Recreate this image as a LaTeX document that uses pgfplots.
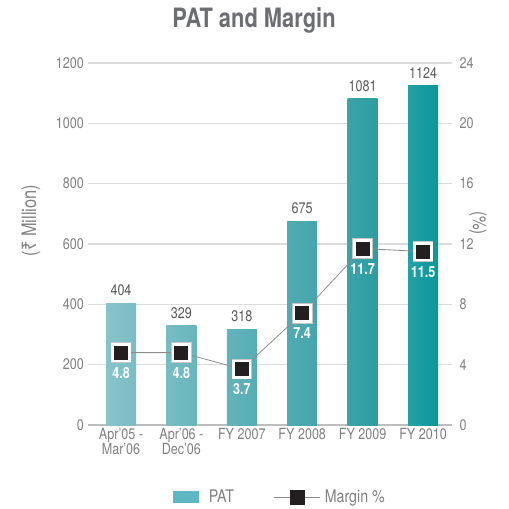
\documentclass[border=0pt]{standalone}
\usepackage{fontspec}
\setmainfont{TeX Gyre Heros}[FakeStretch=0.82]
\newfontfamily\rupeefont{Noto Sans}[FakeStretch=0.82]
\usepackage{pgfplots}
\pgfplotsset{compat=1.18}
\definecolor{titlec}{HTML}{6D6E71}
\definecolor{tickc}{HTML}{808080}
\definecolor{valc}{HTML}{58595B}
\definecolor{gridc}{HTML}{DCDCDC}
\definecolor{axisc}{HTML}{BDBDBD}
\definecolor{linec}{HTML}{8C8C8C}
\definecolor{sqc}{HTML}{231F20}
\definecolor{legc}{HTML}{5FB7C4}
\definecolor{bAl}{HTML}{86C4CA}\definecolor{bAr}{HTML}{7ABDC4}
\definecolor{bBl}{HTML}{76BCC3}\definecolor{bBr}{HTML}{69B5BD}
\definecolor{bCl}{HTML}{64B3BB}\definecolor{bCr}{HTML}{57ADB5}
\definecolor{bDl}{HTML}{52ABB2}\definecolor{bDr}{HTML}{44A5AC}
\definecolor{bEl}{HTML}{3CA4A9}\definecolor{bEr}{HTML}{2C9DA2}
\definecolor{bFl}{HTML}{24A1A5}\definecolor{bFr}{HTML}{0A979B}
\pgfplotsset{
  common/.style={
    scale only axis, width=273pt, height=271.5pt,
    xmin=-0.546, xmax=5.48,
    clip=false,
    /pgf/number format/assume math mode=true,
    /pgf/number format/1000 sep={},
    tick style={draw=none}, major tick length=0pt,
    ticklabel style={font=\fontsize{11.5}{13}\selectfont, text=tickc},
  },
  pbar/.style n args={3}{ybar, bar width=22.5pt, bar shift=0pt, draw=none,
    left color=#1, right color=#2, forget plot,
    nodes near coords, nodes near coords style={font=\fontsize{11.5}{13}\selectfont, text=valc, anchor=south, yshift=2pt},
    point meta=explicit symbolic},
}
\begin{document}
\begin{tikzpicture}
\begin{axis}[
  common,
  ymin=0, ymax=1200, ytick={0,200,...,1200},
  ymajorgrids, grid style={draw=gridc, line width=1.2pt},
  axis x line*=bottom, axis y line*=left,
  y axis line style={draw=none},
  x axis line style={draw=axisc, line width=1.2pt},
  xtick={0,...,5},
  xticklabels={{Apr’05 -\\Mar’06},{Apr’06 -\\Dec’06},{FY 2007},{FY 2008},{FY 2009},{FY 2010}},
  xticklabel style={align=center, font=\fontsize{11.5}{11.5}\selectfont, text=tickc, inner sep=1pt, yshift=-1pt},
  yticklabel style={inner sep=3pt},
  every axis title shift=0pt,
  title={PAT and Margin},
  title style={at={(axis description cs:0.456,1.0967)}, anchor=base, inner sep=0pt, font=\fontsize{20}{22}\bfseries\selectfont, text=titlec},
  ylabel={({\rupeefont ₹} Million)},
  ylabel style={at={(axis description cs:-0.157,0.565)}, anchor=center, inner sep=0pt, font=\fontsize{15}{17}\selectfont, text=tickc},
  legend style={at={(axis description cs:0.2335,-0.199)}, anchor=west, draw=none, fill=none, inner sep=0pt,
    nodes={inner sep=0pt},
    font=\fontsize{13}{15}\selectfont, text=tickc, legend columns=2,
    /tikz/every odd column/.append style={column sep=7.5pt},
    /tikz/every even column/.append style={column sep=30pt}},
]
\addplot[pbar={bAl}{bAr}{}] coordinates {(0,404) [404]};
\addplot[pbar={bBl}{bBr}{}] coordinates {(1,329) [329]};
\addplot[pbar={bCl}{bCr}{}] coordinates {(2,318) [318]};
\addplot[pbar={bDl}{bDr}{}] coordinates {(3,675) [675]};
\addplot[pbar={bEl}{bEr}{}] coordinates {(4,1081) [1081]};
\addplot[pbar={bFl}{bFr}{}] coordinates {(5,1124) [1124]};
\addlegendimage{legend image code/.code={\fill[legc] (0pt,-4.1pt) rectangle (18.75pt,4.1pt);}}
\addlegendentry{PAT}
\addlegendimage{legend image code/.code={\draw[linec, line width=0.6pt] (0pt,0pt) -- (30pt,0pt); \draw[overlay, linec, line width=0.6pt] (29pt,0pt) -- (34.5pt,0pt); \fill[sqc] (12pt,-5.25pt) rectangle (22.5pt,5.25pt);}}
\addlegendentry{Margin \%}
\path (rel axis cs:-0.2418,-0.232) rectangle (rel axis cs:1.1538,1.174);
\end{axis}
\begin{axis}[
  common,
  ymin=0, ymax=24, ytick={0,4,...,24},
  axis x line=none, axis y line*=right,
  y axis line style={draw=none},
  yticklabel style={anchor=west, inner sep=0pt, xshift=5.5pt},
  ylabel={(\%)},
  ylabel style={at={(axis description cs:1.071,0.558)}, anchor=center, inner sep=0pt, rotate=180, font=\fontsize{14}{16}\selectfont, text=tickc},
]
\addplot[only marks, mark=square*, mark size=6.25pt, forget plot,
  mark options={fill=sqc, draw=gray!45, line width=2.9pt}]
  coordinates {(0,4.8) (1,4.8) (2,3.7) (3,7.4) (4,11.7) (5,11.5)};
\addplot[linec, line width=0.6pt, mark=square*, mark size=6.25pt,
  mark options={fill=sqc, draw=white, line width=2pt},
  nodes near coords, point meta=explicit symbolic,
  nodes near coords style={font=\fontsize{11.5}{13}\bfseries\selectfont, text=white, anchor=north, inner sep=0pt, yshift=-10pt}]
  coordinates {(0,4.8) [4.8] (1,4.8) [4.8] (2,3.7) [3.7] (3,7.4) [7.4] (4,11.7) [11.7] (5,11.5) [11.5]};
\end{axis}
\end{tikzpicture}
\end{document}
